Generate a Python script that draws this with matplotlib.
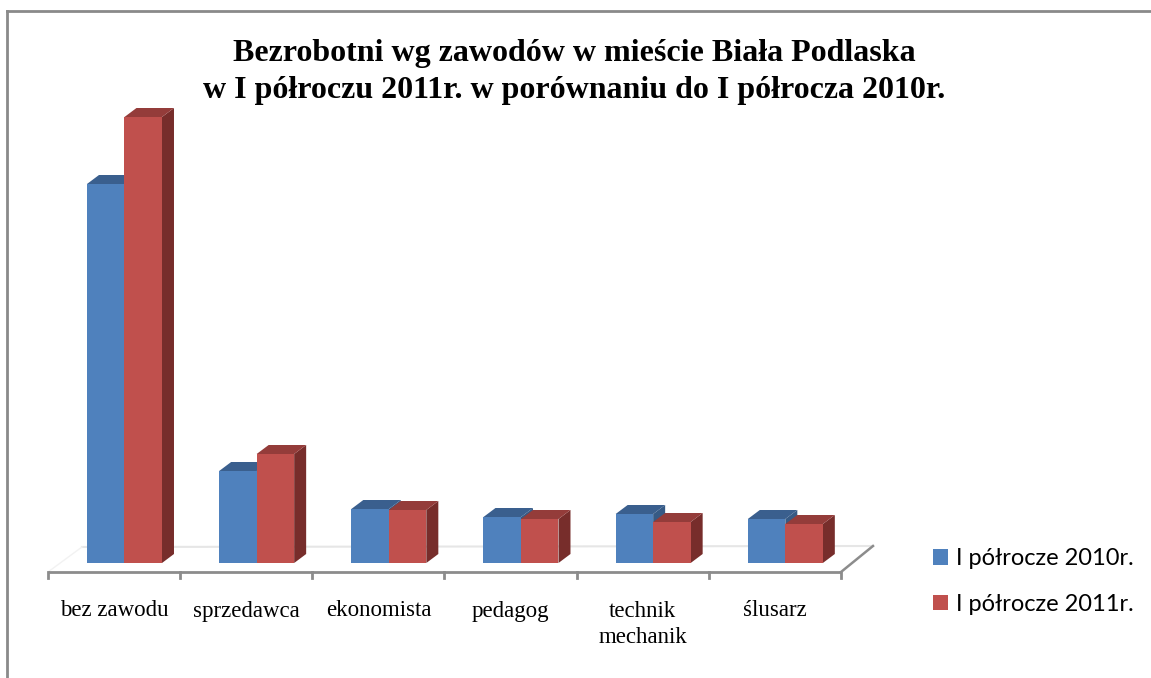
import matplotlib
matplotlib.use("Agg")
import matplotlib.pyplot as plt
from matplotlib.patches import Polygon, Patch
from matplotlib.lines import Line2D

categories = ["bez zawodu", "sprzedawca", "ekonomista", "pedagog", "technik\nmechanik", "ślusarz"]
series_names = ["I półrocze 2010r.", "I półrocze 2011r."]
values_2010 = [758, 184, 108, 92, 98, 88]
values_2011 = [892, 218, 106, 88, 82, 78]
title_text = "Bezrobotni wg zawodów w mieście Biała Podlaska\nw I półroczu 2011r. w porównaniu do I półrocza 2010r."

W, H = 1151, 678
fig = plt.figure(figsize=(W / 100, H / 100), dpi=100)
fig.patch.set_facecolor("white")

# axes placed in pixel terms
left_px, right_px, top_px, bot_px = 48, 841, 100, 600
ax = fig.add_axes([left_px / W, 1 - bot_px / H, (right_px - left_px) / W, (bot_px - top_px) / H])
ax.set_xlim(-0.5, len(categories) - 0.5)
ax.set_ylim(-74, 926)
ax.axis("off")

px_per_x = (right_px - left_px) / len(categories)
DX = 12 / px_per_x      # depth offset in x (data units)
DY = 18                 # depth offset in y (data units)
bar_w = 37.5 / px_per_x
g_off = -0.205

front_cols = ["#4F81BD", "#C0504D"]
top_cols = ["#3A5F8E", "#943C3A"]
side_cols = ["#365A85", "#772D2B"]

# floor lines
ax.plot([-0.243, 5.742], [32, 34], color="#E6E6E6", lw=1.5, zorder=1, clip_on=False)
ax.plot([-0.5, -0.243], [-18, 32], color="#F2F2F2", lw=1, zorder=1, clip_on=False)
ax.plot([5.5, 5.742], [-18, 34], color="#8C8C8C", lw=1.8, zorder=1, clip_on=False)
ax.plot([-0.5, 5.5], [-18, -18], color="#8C8C8C", lw=2, zorder=1, clip_on=False, solid_capstyle="butt")
for t in range(len(categories) + 1):
    ax.plot([t - 0.5, t - 0.5], [-18, -30], color="#8C8C8C", lw=2, zorder=1, clip_on=False)

for i in range(len(categories)):
    for s, vals in enumerate([values_2010, values_2011]):
        x0 = i + g_off + s * bar_w
        x1 = x0 + bar_w
        v = vals[i]
        z = 3 + s * 0.1
        side = Polygon([(x1, 0), (x1 + DX, DY), (x1 + DX, v + DY), (x1, v)],
                       closed=True, facecolor=side_cols[s], edgecolor="none", zorder=z)
        top = Polygon([(x0, v), (x0 + DX, v + DY), (x1 + DX, v + DY), (x1, v)],
                      closed=True, facecolor=top_cols[s], edgecolor="none", zorder=z)
        ax.add_patch(side)
        ax.add_patch(top)
        ax.bar(x0, v, width=bar_w, align="edge", color=front_cols[s], edgecolor="none", zorder=z + 0.05)

serif = ["Liberation Serif", "DejaVu Serif"]
for i, c in enumerate(categories):
    if "\n" in c:
        ax.text(i, -76, c, ha="center", va="top", fontsize=16.5, family=serif,
                linespacing=1.3, clip_on=False)
    else:
        ax.text(i, -96, c, ha="center", va="center", fontsize=16.5, family=serif, clip_on=False)

fig.text(574 / W, 1 - 72 / H, title_text, ha="center", va="center", fontsize=23,
         fontweight="bold", family=serif, linespacing=1.35)

# frame
fig.add_artist(Line2D([7 / W, 7 / W], [0, 1 - 11 / H], color="#8A8A8A", lw=2, transform=fig.transFigure))
fig.add_artist(Line2D([7 / W, 1], [1 - 11 / H, 1 - 11 / H], color="#8A8A8A", lw=2, transform=fig.transFigure))

handles = [Patch(facecolor=front_cols[0], edgecolor="none"), Patch(facecolor=front_cols[1], edgecolor="none")]
fig.legend(handles, series_names, loc="upper left", bbox_to_anchor=(912 / W, 1 - 527 / H),
           frameon=False, handlelength=0.62, handleheight=0.62, handletextpad=0.35,
           labelspacing=1.05, prop={"family": ["Lato", "DejaVu Sans"], "size": 17})

fig.savefig("out.png", dpi=100, facecolor="white")
